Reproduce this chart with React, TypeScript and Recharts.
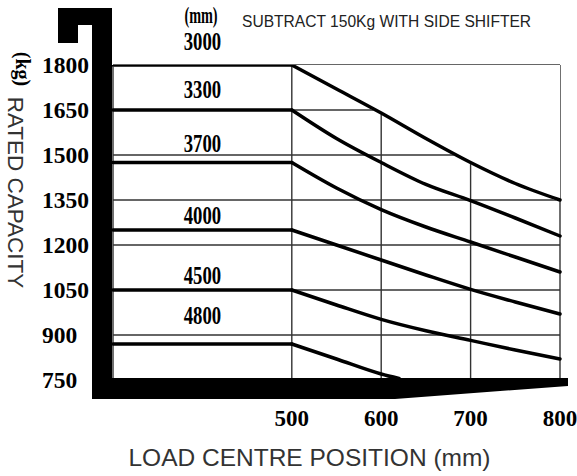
import { ComposedChart, Line, Area, XAxis, YAxis, CartesianGrid } from "recharts";

// load centre (mm) and rated capacity (kg) per lift height
const mmPositions = [300, 400, 500, 550, 600, 620, 650, 700, 750, 800];
const lift3000 = [1800, 1800, 1800, 1720, 1640, null, 1555, 1475, 1405, 1350];
const lift3300 = [1650, 1650, 1650, 1555, 1475, null, 1402, 1348, 1290, 1230];
const lift3700 = [1475, 1475, 1475, 1390, 1318, null, 1260, 1210, 1160, 1110];
const lift4000 = [1250, 1250, 1250, 1200, 1150, null, 1100, 1052, 1010, 970];
const lift4500 = [1050, 1050, 1050, 1000, 952, null, 914, 882, 850, 820];
const lift4800 = [870, 870, 870, 820, 770, 755, null, null, null, null];

const yTicks = [750, 900, 1050, 1200, 1350, 1500, 1650, 1800];
const xTicks = [500, 600, 700, 800];
const kneeMm = 500;

const series = [
  { name: "3000", values: lift3000, dy: -15 },
  { name: "3300", values: lift3300, dy: -12 },
  { name: "3700", values: lift3700, dy: -11 },
  { name: "4000", values: lift4000, dy: -6 },
  { name: "4500", values: lift4500, dy: -6 },
  { name: "4800", values: lift4800, dy: -20 },
];

// flat part up to the knee, curved part after it
const rows = mmPositions.map((mm, i) => {
  const row: any = { mm };
  series.forEach((s) => {
    const v = s.values[i];
    row["flat" + s.name] = mm <= kneeMm ? v : null;
    row["drop" + s.name] = mm >= kneeMm ? v : null;
  });
  row.cover = lift3000[i] == null ? null : [lift3000[i], 1800];
  return row;
});

const serif = "'Liberation Serif', 'Times New Roman', serif";
const sans = "'Liberation Sans', Arial, sans-serif";

const YTick = ({ y, payload }: any) => (
  <text x={42} y={y + 8} fontFamily={serif} fontWeight="bold" fontSize={23.5} fill="#000">
    {payload.value}
  </text>
);

const XTick = ({ x, y, payload }: any) => (
  <text x={x} y={y + 46} textAnchor="middle" fontFamily={serif} fontWeight="bold" fontSize={23} fill="#000">
    {payload.value}
  </text>
);

const seriesLabel = (name: string, dy: number) => (props: any) => {
  if (props.index !== 1) return null;
  const x = props.x ?? props.viewBox?.x;
  const y = props.y ?? props.viewBox?.y;
  return (
    <text
      key={name}
      transform={`translate(${x},${y + dy}) scale(0.72,1)`}
      textAnchor="middle"
      fontFamily={serif}
      fontWeight="bold"
      fontSize={26}
      fill="#000"
    >
      {name}
    </text>
  );
};

export default function App() {
  return (
    <div style={{ position: "absolute", left: 0, top: 0, width: 577, height: 476, background: "#fff" }}>
      <ComposedChart width={577} height={476} data={rows} margin={{ top: 65, right: 17, bottom: 36, left: 0 }}>
        <CartesianGrid stroke="#333" strokeWidth={1.4} />
        <XAxis
          dataKey="mm"
          type="number"
          domain={[300, 800]}
          ticks={xTicks}
          height={60}
          axisLine={false}
          tickLine={false}
          tickSize={0}
          tickMargin={0}
          tick={<XTick />}
        />
        <YAxis
          type="number"
          domain={[750, 1800]}
          ticks={yTicks}
          width={113}
          allowDataOverflow
          axisLine={false}
          tickLine={false}
          tickSize={0}
          tickMargin={0}
          tick={<YTick />}
        />
        <Area
          dataKey="cover"
          type="monotone"
          fill="#fff"
          fillOpacity={1}
          stroke="#fff"
          strokeWidth={3}
          connectNulls
          isAnimationActive={false}
          dot={false}
          activeDot={false}
        />
        {series.map((s) => (
          <Line
            key={"flat" + s.name}
            dataKey={"flat" + s.name}
            type="linear"
            stroke="#000"
            strokeWidth={3.5}
            strokeLinecap="round"
            dot={false}
            activeDot={false}
            connectNulls
            isAnimationActive={false}
            label={seriesLabel(s.name, s.dy)}
          />
        ))}
        {series.map((s) => (
          <Line
            key={"drop" + s.name}
            dataKey={"drop" + s.name}
            type="monotone"
            stroke="#000"
            strokeWidth={3.5}
            strokeLinecap="round"
            dot={false}
            activeDot={false}
            connectNulls
            isAnimationActive={false}
          />
        ))}
      </ComposedChart>
      <svg
        width={577}
        height={476}
        style={{ position: "absolute", left: 0, top: 0, pointerEvents: "none" }}
      >
        <rect x={92} y={8} width={20} height={391} fill="#000" />
        <rect x={58} y={8} width={54} height={17} fill="#000" />
        <rect x={58} y={8} width={20} height={35} fill="#000" />
        <polygon points="92,378 568,378 568,386 395,399 92,399" fill="#000" />
        <text
          transform="translate(201,23) scale(0.62,1)"
          textAnchor="middle"
          fontFamily={serif}
          fontWeight="bold"
          fontSize={23}
          fill="#000"
        >
          (mm)
        </text>
        <text x={242} y={27} fontFamily={sans} fontSize={15.6} fill="#222">
          SUBTRACT 150Kg WITH SIDE SHIFTER
        </text>
        <text
          transform="translate(16,69) rotate(90)"
          textAnchor="middle"
          fontFamily={serif}
          fontWeight="bold"
          fontSize={20}
          fill="#000"
        >
          (kg)
        </text>
        <text
          transform="translate(8,192.5) rotate(90)"
          textAnchor="middle"
          fontFamily={sans}
          fontSize={22.5}
          fill="#333"
        >
          RATED CAPACITY
        </text>
        <text x={309.5} y={466} textAnchor="middle" fontFamily={sans} fontSize={24.5} fill="#333">
          LOAD CENTRE POSITION (mm)
        </text>
      </svg>
    </div>
  );
}
